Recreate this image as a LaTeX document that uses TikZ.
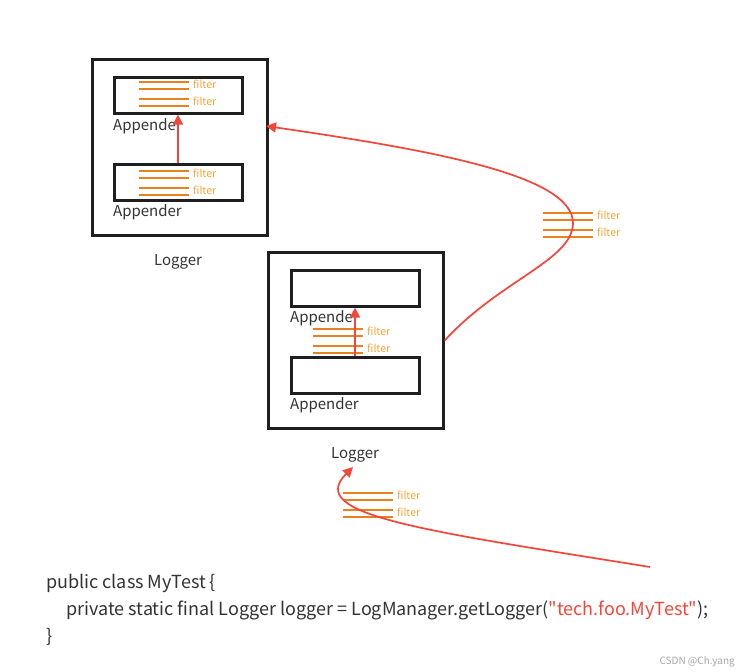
\documentclass[tikz,border=0pt]{standalone}
\usepackage{fontspec}
\setmainfont{Noto Sans CJK SC}[Ligatures=TeXOff]
\usetikzlibrary{arrows.meta,positioning}

\begin{document}
\begin{tikzpicture}[x=1pt,y=-1pt]
        %colores
        \definecolor{rojo}{HTML}{F2463A}
        \definecolor{naranja}{HTML}{E8821E}
        \definecolor{nfiltro}{HTML}{F2A53A}
        \definecolor{texto}{HTML}{333333}
        \tikzset{
            logger/.style={draw=black!88,line width=2.8pt,anchor=north west,inner sep=0pt,
                minimum width=175pt,minimum height=176pt},
            appender/.style={draw=black!88,line width=2.6pt,anchor=north west,inner sep=0pt,
                minimum width=128pt,minimum height=36pt},
            etiqueta/.style={text=texto,font=\fontsize{15}{18}\selectfont,inner sep=0pt},
            filtro/.style={text=nfiltro,font=\fontsize{10.5}{12}\selectfont,inner sep=0pt,anchor=west},
            linea/.style={naranja,line width=2pt},
            flecha/.style={rojo,line width=1.7pt,-{Triangle[length=10pt,width=10pt]}},
            codigo/.style={text=texto,font=\fontsize{18}{22}\selectfont,inner sep=0pt,anchor=base west}
        }

        % fondo
        \useasboundingbox[fill=white] (0,0) rectangle (748,672);

        % Logger de arriba
        \node[logger] (loggerA) at (91,58) {};
        \node[appender] (appA1) at (113,76) {};
        \node[appender] (appA2) at (113,163) {};
        \node[etiqueta,anchor=north west] (labA1) at (113,118) {Appender};
        \node[etiqueta,anchor=north west] (labA2) at (113,204) {Appender};
        \node[etiqueta] (nomA) at (178,262) {Logger};
        \draw[flecha] (appA2.north -| 178,0) -- (appA1.south -| 178,0);

        % Logger de abajo
        \node[logger] (loggerB) at (267,251) {};
        \node[appender] (appB1) at (290,269) {};
        \node[appender] (appB2) at (290,356) {};
        \node[etiqueta,anchor=north west] (labB1) at (290,310) {Appender};
        \node[etiqueta,anchor=north west] (labB2) at (290,397) {Appender};
        \node[etiqueta] (nomB) at (355,455) {Logger};

        % filtros: x inicial / y primera linea / nombre
        \foreach \x/\y/\n in {139/82/fa, 139/171/fb, 313/329/fc, 543/213/fd, 343/493/fe}{
            \foreach \k in {0,1}{
                \draw[linea] (\x,\y+\k*16.5) -- +(50,0) (\x,\y+\k*16.5+7) -- +(50,0);
                \node[filtro] (\n\k) at (\x+54,\y+\k*16.5+2.5) {filter};
            }
        }

        % flechas entre appenders y loggers
        \draw[flecha] (appB2.north -| 355,0) -- (appB1.south -| 355,0);
        \coordinate (llegaA) at (266,126);
        \draw[flecha] (loggerB.east) .. controls (500,280) and (573,260) .. (573,223)
            .. controls (573,175) and (430,150) .. (llegaA);
        \coordinate (salida) at (650,567);
        \coordinate (llegaB) at (353,467);
        \draw[flecha] (salida) .. controls (420,530) and (305,515) .. (llegaB);

        % codigo
        \node[codigo] (cod1) at (46,588) {public class MyTest \{};
        \node[codigo] (cod2) at (66,615) {private static final Logger logger = LogManager.getLogger(\textcolor{rojo}{"tech.foo.MyTest"});};
        \node[codigo] (cod3) at (46,642) {\}};
        \node[text=black!35,font=\fontsize{10}{12}\selectfont,inner sep=0pt,anchor=base east] (marca) at (735,664) {CSDN @Ch.yang};
    \end{tikzpicture}
\end{document}
